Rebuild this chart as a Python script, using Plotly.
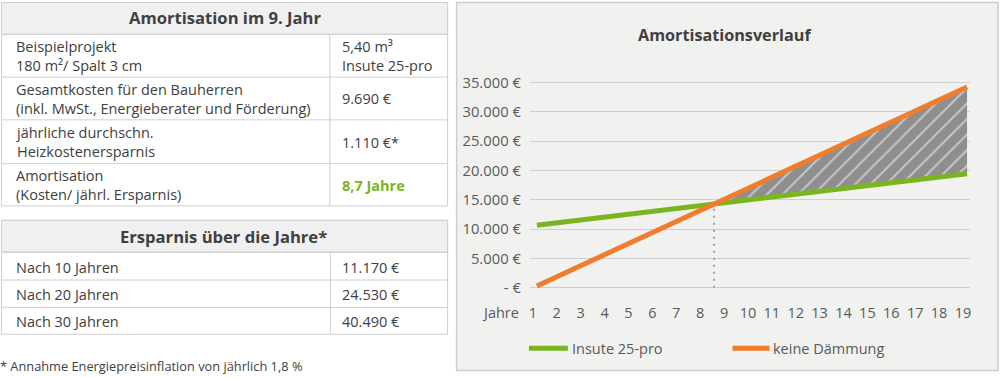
import plotly.graph_objects as go

# ---------------- data ----------------
years = list(range(1, 20))
insute = [10650, 11140, 11630, 12120, 12610, 13100, 13590, 14080, 14570, 15060,
          15550, 16040, 16530, 17020, 17510, 18000, 18490, 18980, 19450]
keine = [300, 2190, 4070, 5960, 7840, 9730, 11620, 13500, 15390, 17270,
         19160, 21050, 22930, 24820, 26710, 28590, 30480, 32360, 34250]
series_names = ["Insute 25-pro", "keine Dämmung"]
y_ticks = [0, 5000, 10000, 15000, 20000, 25000, 30000, 35000]
y_tick_labels = ["- €", "5.000 €", "10.000 €", "15.000 €", "20.000 €",
                 "25.000 €", "30.000 €", "35.000 €"]
chart_title = "Amortisationsverlauf"
x_axis_label = "Jahre"

table1_title = "Amortisation im 9. Jahr"
table1_labels = [["Beispielprojekt", "180 m²/ Spalt 3 cm"],
                 ["Gesamtkosten für den Bauherren", "(inkl. MwSt., Energieberater und Förderung)"],
                 ["jährliche durchschn.", "Heizkostenersparnis"],
                 ["Amortisation", "(Kosten/ jährl. Ersparnis)"]]
table1_values = [["5,40 m³", "Insute 25-pro"], ["9.690 €"], ["1.110 €*"], ["8,7 Jahre"]]
table2_title = "Ersparnis über die Jahre*"
table2_labels = ["Nach 10 Jahren", "Nach 20 Jahren", "Nach 30 Jahren"]
table2_values = ["11.170 €", "24.530 €", "40.490 €"]
footnote = "* Annahme Energiepreisinflation von jährlich 1,8 %"

# ---------------- style ----------------
W, H = 1000, 377
GREEN = "#78b51e"
ORANGE = "#f07d2d"
TXT = "#404040"
TICK = "#595959"
BORDER = "#cfcfcf"
FONT = "Open Sans"


def px(x):
    return x / W


def py(y):
    return 1 - y / H


shapes = []
annotations = []


def ann(text, x, y, size=14, color=TXT, bold=False, xanchor="left"):
    if bold:
        text = "<b>" + text + "</b>"
    annotations.append(dict(text=text, x=px(x), y=py(y), xref="paper", yref="paper",
                            xanchor=xanchor, yanchor="middle", showarrow=False,
                            align="left",
                            font=dict(family=FONT, size=size, color=color)))


def rect(x0, y0, x1, y1, fill="rgba(0,0,0,0)", line=BORDER, width=1):
    shapes.append(dict(type="rect", xref="paper", yref="paper", x0=px(x0), x1=px(x1),
                       y0=py(y0), y1=py(y1), fillcolor=fill,
                       line=dict(color=line, width=width), layer="below"))


def hline(x0, x1, y, color=BORDER, width=1):
    shapes.append(dict(type="line", xref="paper", yref="paper", x0=px(x0), x1=px(x1),
                       y0=py(y), y1=py(y), line=dict(color=color, width=width), layer="below"))


def vline(x, y0, y1, color=BORDER, width=1):
    shapes.append(dict(type="line", xref="paper", yref="paper", x0=px(x), x1=px(x),
                       y0=py(y0), y1=py(y1), line=dict(color=color, width=width), layer="below"))


# ---------------- left tables ----------------
TL, TR, TC = 0.5, 447.5, 329.5
LX, VX = 13, 340
CELL_SIZE = 14.5

# table 1
t1_rows = [0.5, 32.5, 75.5, 118.5, 162.5, 205]
rect(TL, t1_rows[0], TR, t1_rows[1], fill="#f0f0f0", line=BORDER)
rect(TL, t1_rows[0], TR, t1_rows[-1], line=BORDER)
for yb in t1_rows[1:-1]:
    hline(TL, TR, yb)
vline(TC, t1_rows[1], t1_rows[-1])
ann(table1_title, 224, 15.5, size=16.6, bold=True, xanchor="center")
for i, (lab, val) in enumerate(zip(table1_labels, table1_values)):
    cy = (t1_rows[i + 1] + t1_rows[i + 2]) / 2 + 0.5
    ann("<br>".join(lab), LX, cy, size=CELL_SIZE)
    last = i == len(table1_labels) - 1
    ann("<br>".join(val), VX, cy, size=CELL_SIZE,
        color=GREEN if last else TXT, bold=last)

# table 2
t2_rows = [219.5, 251.5, 279.5, 307, 334]
rect(TL, t2_rows[0], TR, t2_rows[1], fill="#f0f0f0", line=BORDER)
rect(TL, t2_rows[0], TR, t2_rows[-1], line=BORDER)
for yb in t2_rows[1:-1]:
    hline(TL, TR, yb)
vline(TC + 0.5, t2_rows[1], t2_rows[-1])
ann(table2_title, 223, 236, size=16.6, bold=True, xanchor="center")
for i, (lab, val) in enumerate(zip(table2_labels, table2_values)):
    cy = (t2_rows[i + 1] + t2_rows[i + 2]) / 2 + 1
    ann(lab, LX, cy, size=CELL_SIZE)
    ann(val, VX, cy, size=CELL_SIZE)

ann(footnote, -3, 365.5, size=12.8, color=TXT)

# ---------------- chart panel ----------------
rect(456.5, 0.5, 999, 370.5, fill="#f1f1f0", line="#cccccc", width=1.5)
ann(chart_title, 725, 33, size=16.2, bold=True, xanchor="center")
ann(x_axis_label, 521, 312, size=14.5, color=TICK, xanchor="right")

# legend (manual)
leg = [(GREEN, series_names[0], 529, 568, 570), (ORANGE, series_names[1], 733, 770, 772)]
for col, name, s0, s1, tx in leg:
    shapes.append(dict(type="line", xref="paper", yref="paper", x0=px(s0), x1=px(s1),
                       y0=py(348), y1=py(348), line=dict(color=col, width=5)))
    ann(name, tx, 348, size=14.5, color=TICK)

# ---------------- traces ----------------
# crossing point derived from the data
k = next(i for i in range(len(years) - 1)
         if (keine[i] - insute[i]) <= 0 < (keine[i + 1] - insute[i + 1]))
d0 = keine[k] - insute[k]
d1 = keine[k + 1] - insute[k + 1]
t = -d0 / (d1 - d0)
xc = years[k] + t * (years[k + 1] - years[k])
yc = insute[k] + t * (insute[k + 1] - insute[k])

fx = [xc] + years[k + 1:] + years[k + 1:][::-1] + [xc]
fy = [yc] + keine[k + 1:] + insute[k + 1:][::-1] + [yc]

fig = go.Figure()
fig.add_trace(go.Scatter(x=fx, y=fy, mode="lines", fill="toself",
                         fillcolor="#8e8e8e", line=dict(width=0),
                         fillpattern=dict(shape="/", bgcolor="#8e8e8e", fgcolor="#ffffff",
                                          size=11, solidity=0.18),
                         hoverinfo="skip", showlegend=False))
fig.add_trace(go.Scatter(x=[xc, xc], y=[0, yc], mode="lines",
                         line=dict(color="#a0a0a0", width=2, dash="2px,5px"),
                         hoverinfo="skip", showlegend=False))
fig.add_trace(go.Scatter(x=years, y=insute, mode="lines", name=series_names[0],
                         line=dict(color=GREEN, width=5), showlegend=False))
fig.add_trace(go.Scatter(x=years, y=keine, mode="lines", name=series_names[1],
                         line=dict(color=ORANGE, width=5), showlegend=False))

fig.update_layout(
    width=W, height=H, autosize=False,
    margin=dict(l=0, r=0, t=0, b=0),
    paper_bgcolor="#ffffff", plot_bgcolor="rgba(0,0,0,0)",
    shapes=shapes, annotations=annotations, showlegend=False,
    font=dict(family=FONT, color=TICK),
    xaxis=dict(domain=[0.530, 0.971], range=[0.7077, 19.125],
               tickvals=[y - 0.17 for y in years], ticktext=[str(y) for y in years],
               showgrid=False, zeroline=False, showline=False,
               ticks="", ticklabelstandoff=6,
               tickfont=dict(family=FONT, size=14.5, color=TICK)),
    yaxis=dict(domain=[1 - 296.1 / H, 1 - 72.16 / H], range=[-1500, 36500],
               tickvals=y_ticks, ticktext=y_tick_labels,
               showgrid=True, gridcolor="#cfcfcf", gridwidth=1.3,
               zeroline=False, showline=False, ticks="", ticklabelstandoff=8,
               tickfont=dict(family=FONT, size=14.8, color=TICK)),
)

fig.write_html("out.html", config={"displayModeBar": False},
               post_script="document.body.style.margin='0';document.body.style.padding='0';"
                           "document.body.style.overflow='hidden';")
